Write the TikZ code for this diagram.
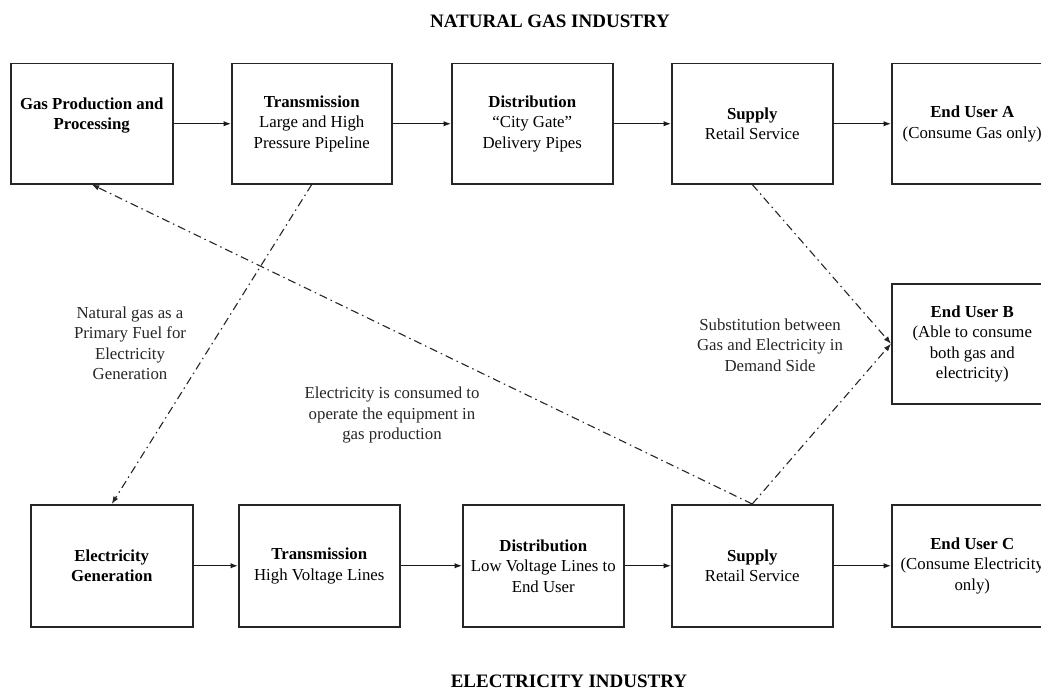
\documentclass[tikz,border=0pt]{standalone}
\usepackage{fontspec}
\setmainfont{Liberation Serif}
\usetikzlibrary{arrows.meta}
\begin{document}
\begin{tikzpicture}[x=1pt,y=-1pt,
  box/.style={draw=black!85, line width=1.5pt, minimum width=161pt, minimum height=120pt,
    inner sep=0pt, align=center, anchor=north west, font=\fontsize{16.8}{20.5}\selectfont},
  btxt/.style={align=center, inner sep=0pt, font=\fontsize{16.8}{20.5}\selectfont},
  lbl/.style={align=center, inner sep=0pt, text=black!85, font=\fontsize{16.8}{20.5}\selectfont},
  ttl/.style={inner sep=0pt, font=\fontsize{19}{22}\selectfont\bfseries},
  flow/.style={draw=black!90, line width=1.4pt, -{Latex[length=7.5pt,width=5.5pt]}},
  dd/.style={draw=black!85, line width=1.1pt, dash pattern=on 8pt off 4pt on 1.5pt off 4pt,
    -{Latex[length=7.5pt,width=5.5pt]}}
]
\useasboundingbox (0,0) rectangle (1041,693);
\clip (0,0) rectangle (1041,693);

% titles
\node[ttl] (t1) at (550,21) {NATURAL GAS INDUSTRY};
\node[ttl] (t2) at (569,681) {ELECTRICITY INDUSTRY};

% gas row
\node[box, minimum width=162pt] (g1) at (10,63) {};
\node[btxt] (g1t) at ([yshift=8pt]g1.center) {\textbf{Gas Production and}\\\textbf{Processing}};
\node[box, minimum width=160pt] (g2) at (231,63) {\textbf{Transmission}\\Large and High\\Pressure Pipeline};
\node[box] (g3) at (451,63) {\textbf{Distribution}\\“City Gate”\\Delivery Pipes};
\node[box] (g4) at (671,63) {\textbf{Supply}\\Retail Service};
\node[box] (g5) at (891,63) {\textbf{End User A}\\(Consume Gas only)};

% end user B
\node[box] (eb) at (891,283) {\textbf{End User B}\\(Able to consume\\both gas and\\electricity)};

% electricity row
\node[box, minimum width=162pt, minimum height=122pt] (e1) at (30,504) {\textbf{Electricity}\\\textbf{Generation}};
\node[box, minimum height=122pt] (e2) at (238,504) {\textbf{Transmission}\\High Voltage Lines};
\node[box, minimum height=122pt] (e3) at (462,504) {\textbf{Distribution}\\Low Voltage Lines to\\End User};
\node[box, minimum height=122pt] (e4) at (671,504) {\textbf{Supply}\\Retail Service};
\node[box, minimum height=122pt] (e5) at (891,504) {\textbf{End User C}\\(Consume Electricity\\only)};

% solid flows
\draw[flow] (g1) -- (g2);
\draw[flow] (g2) -- (g3);
\draw[flow] (g3) -- (g4);
\draw[flow] (g4) -- (g5);
\draw[flow] (e1) -- (e2);
\draw[flow] (e2) -- (e3);
\draw[flow] (e3) -- (e4);
\draw[flow] (e4) -- (e5);

% dash-dot links
\draw[dd] (g2.south) -- (e1.north);
\draw[dd] (e4.north) -- (g1.south);
\draw[dd] (g4.south) -- (eb.west);
\draw[dd] (e4.north) -- (eb.west);

% labels
\node[lbl] (l1) at (130,343) {Natural gas as a\\Primary Fuel for\\Electricity\\Generation};
\node[lbl] (l2) at (392,415) {Electricity is consumed to\\operate the equipment in\\gas production};
\node[lbl] (l3) at (770,345) {Substitution between\\Gas and Electricity in\\Demand Side};
\end{tikzpicture}
\end{document}
